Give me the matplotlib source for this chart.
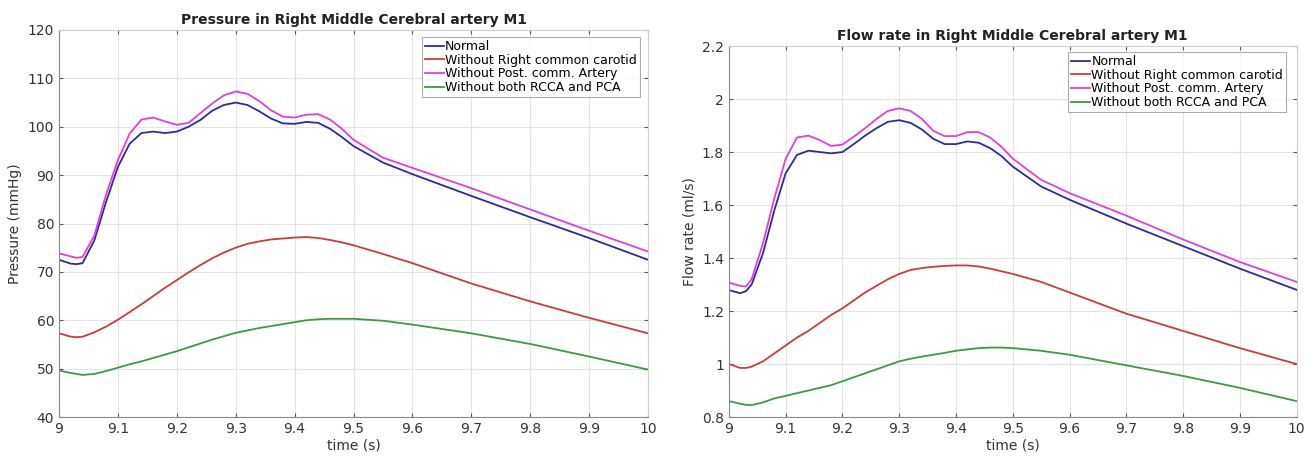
import numpy as np
import matplotlib
matplotlib.use('Agg')
import matplotlib.pyplot as plt

# time points (s)
t = [9.00, 9.02, 9.03, 9.04, 9.06, 9.08, 9.10, 9.12, 9.14, 9.16, 9.18,
     9.20, 9.22, 9.24, 9.26, 9.28, 9.30, 9.32, 9.34, 9.36, 9.38, 9.40,
     9.42, 9.44, 9.46, 9.48, 9.50, 9.55, 9.60, 9.70, 9.80, 9.90, 10.0]

labels = ['Normal', 'Without Right common carotid',
          'Without Post. comm. Artery', 'Without both RCCA and PCA']
colors = ['#2b2b9e', '#cc3b3b', '#e03ee0', '#3f9a3f']

# pressure (mmHg)
p_normal = [72.5, 71.7, 71.6, 71.8, 76.5, 84.5, 91.7, 96.5, 98.7, 99.0, 98.7,
            99.0, 100.0, 101.4, 103.3, 104.5, 105, 104.5, 103.2, 101.7, 100.7, 100.6,
            101, 100.8, 99.6, 97.9, 96, 92.6, 90.2, 85.7, 81.3, 77, 72.5]
p_no_rcca = [57.3, 56.6, 56.5, 56.6, 57.5, 58.7, 60.1, 61.7, 63.3, 65, 66.7,
             68.3, 69.9, 71.4, 72.8, 74, 75, 75.8, 76.3, 76.7, 76.9, 77.1,
             77.2, 77, 76.6, 76.1, 75.5, 73.7, 71.8, 67.6, 63.9, 60.5, 57.3]
p_no_pcom = [73.8, 73.2, 72.9, 73.1, 77.5, 86, 93.1, 98.6, 101.5, 101.9, 101.1,
             100.4, 100.8, 102.8, 104.8, 106.5, 107.3, 106.8, 105.3, 103.4, 102.1, 101.9,
             102.5, 102.6, 101.5, 99.6, 97.3, 93.6, 91.5, 87.3, 82.9, 78.5, 74.2]
p_no_both = [49.6, 49.1, 48.9, 48.7, 48.9, 49.5, 50.2, 50.9, 51.5, 52.2, 52.9,
             53.6, 54.4, 55.2, 56, 56.7, 57.4, 57.9, 58.4, 58.8, 59.2, 59.6,
             60, 60.2, 60.3, 60.3, 60.3, 59.9, 59.1, 57.3, 55.1, 52.5, 49.8]

# flow rate (ml/s)
q_normal = [1.279, 1.267, 1.275, 1.30, 1.418, 1.58, 1.72, 1.789, 1.805, 1.80, 1.795,
            1.80, 1.83, 1.862, 1.89, 1.914, 1.92, 1.91, 1.885, 1.85, 1.83, 1.83,
            1.84, 1.835, 1.815, 1.785, 1.745, 1.67, 1.62, 1.53, 1.445, 1.36, 1.28]
q_no_rcca = [1.0, 0.985, 0.985, 0.99, 1.01, 1.04, 1.07, 1.10, 1.125, 1.155, 1.185,
             1.21, 1.24, 1.27, 1.295, 1.32, 1.34, 1.355, 1.362, 1.367, 1.37, 1.372,
             1.372, 1.368, 1.36, 1.35, 1.34, 1.31, 1.27, 1.19, 1.125, 1.06, 1.0]
q_no_pcom = [1.307, 1.295, 1.292, 1.32, 1.455, 1.625, 1.775, 1.855, 1.862, 1.845, 1.823,
             1.828, 1.858, 1.89, 1.925, 1.955, 1.965, 1.955, 1.925, 1.88, 1.86, 1.86,
             1.875, 1.875, 1.855, 1.82, 1.775, 1.695, 1.645, 1.56, 1.47, 1.385, 1.31]
q_no_both = [0.86, 0.85, 0.846, 0.845, 0.855, 0.87, 0.88, 0.89, 0.90, 0.91, 0.92,
             0.935, 0.95, 0.965, 0.98, 0.995, 1.01, 1.02, 1.028, 1.035, 1.042, 1.05,
             1.055, 1.06, 1.062, 1.062, 1.06, 1.05, 1.035, 0.995, 0.955, 0.91, 0.86]

plt.rcParams['font.family'] = 'DejaVu Sans'
fig = plt.figure(figsize=(13.11, 4.58), dpi=100)

def style_axes(ax, yticks, ylim):
    ax.set_xlim(9, 10)
    ax.set_ylim(*ylim)
    ax.set_xticks(np.round(np.arange(9, 10.01, 0.1), 1))
    ax.set_xticklabels(['9', '9.1', '9.2', '9.3', '9.4', '9.5', '9.6', '9.7', '9.8', '9.9', '10'])
    ax.set_yticks(yticks)
    ax.grid(True, color='#e4e4e4', linewidth=0.8)
    ax.set_axisbelow(True)
    ax.tick_params(direction='in', length=3, labelsize=10, colors='#555555',
                   labelcolor='#333333', top=True, right=True)
    for side in ['left', 'bottom']:
        ax.spines[side].set_color('#8a8a8a')
    for side in ['top', 'right']:
        ax.spines[side].set_color('#cfcfcf')
    ax.set_xlabel('time (s)', fontsize=10, color='#333333', labelpad=2)

def add_legend(ax, anchor):
    leg = ax.legend(loc='upper right', bbox_to_anchor=anchor, fontsize=9,
                    fancybox=False, handlelength=1.5, handletextpad=0.1,
                    borderpad=0.25, labelspacing=0.05, borderaxespad=0)
    leg.get_frame().set_edgecolor('#9a9a9a')
    leg.get_frame().set_linewidth(0.8)

# pressure panel
ax1 = fig.add_axes([0.045, 0.0895, 0.4493, 0.845])
for y, c, lab in zip([p_normal, p_no_rcca, p_no_pcom, p_no_both], colors, labels):
    ax1.plot(t, y, color=c, linewidth=1.3, label=lab)
style_axes(ax1, np.arange(40, 121, 10), (40, 120))
ax1.set_ylabel('Pressure (mmHg)', fontsize=10, color='#333333', labelpad=4)
ax1.set_title('Pressure in Right Middle Cerebral artery M1', fontsize=10,
              fontweight='bold', color='#222222', pad=4)
add_legend(ax1, (0.986, 0.982))

# flow panel
ax2 = fig.add_axes([0.556, 0.0895, 0.433, 0.81])
for y, c, lab in zip([q_normal, q_no_rcca, q_no_pcom, q_no_both], colors, labels):
    ax2.plot(t, y, color=c, linewidth=1.3, label=lab)
style_axes(ax2, [0.8, 1.0, 1.2, 1.4, 1.6, 1.8, 2.0, 2.2], (0.8, 2.2))
ax2.set_yticklabels(['0.8', '1', '1.2', '1.4', '1.6', '1.8', '2', '2.2'])
ax2.set_ylabel('Flow rate (ml/s)', fontsize=10, color='#333333', labelpad=4)
ax2.set_title('Flow rate in Right Middle Cerebral artery M1', fontsize=10,
              fontweight='bold', color='#222222', pad=4)
add_legend(ax2, (0.982, 0.984))

fig.savefig('out.png', dpi=100)
